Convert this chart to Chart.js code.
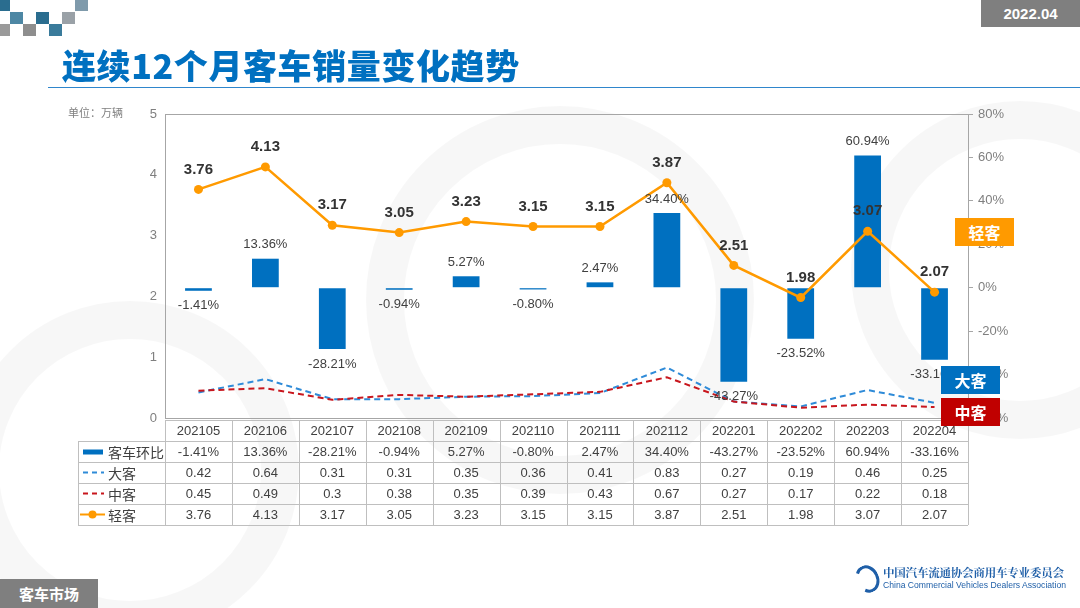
<!DOCTYPE html>
<html>
<head>
<meta charset="utf-8">
<script src="https://cdn.jsdelivr.net/npm/chart.js@4.4.1/dist/chart.umd.min.js"></script>
<style>
  body { margin: 0; background: #fff; }
  #page { position: relative; width: 1080px; height: 608px; overflow: hidden; font-family: "Noto Sans CJK SC", "Liberation Sans", sans-serif; }
  #chart { position: absolute; left: 0; top: 0; }
  .abs { position: absolute; }
  .sq { position: absolute; width: 13px; height: 12px; }
  #title { left: 62px; top: 40px; font-size: 34px; font-weight: 900; color: #0070c0; letter-spacing: 0.6px; white-space: nowrap; }
  #rule { left: 48px; top: 87px; width: 1032px; height: 1px; background: #2f86cc; }
  #date { left: 981px; top: 0; width: 99px; height: 27px; background: #7f7f7f; color: #fff; font: bold 15px "Liberation Sans", sans-serif; line-height: 27px; text-align: center; }
  #section { left: 0; top: 579px; width: 98px; height: 29px; background: #7f7f7f; color: #fff; font-size: 15px; font-weight: bold; line-height: 29px; text-align: center; }
  #unit { left: 68px; top: 104px; font-size: 11px; color: #7f7f7f; }
  .tag { position: absolute; width: 59px; height: 28px; color: #fff; font-size: 16px; font-weight: bold; line-height: 28px; text-align: center; }
  #org { left: 883px; top: 565px; color: #1f5fa8; }
  #org .cn { font-family: "Noto Serif CJK SC", "Noto Sans CJK SC", serif; font-size: 11.5px; font-weight: bold; letter-spacing: -0.2px; line-height: 15px; }
  #org .en { font: 8.6px "Liberation Sans", sans-serif; line-height: 10px; }
  #logo { left: 856px; top: 565px; width: 17px; height: 22px; border: 3px solid #1f5fa8; border-radius: 50%; border-left-color: transparent; transform: rotate(-25deg); }
</style>
</head>
<body>
<div id="page">
  <canvas id="chart" width="1080" height="608"></canvas>
  <div class="sq" style="left:0;top:0;width:10px;height:11px;background:#2a6d8f"></div>
  <div class="sq" style="left:75px;top:0;height:11px;background:#7f9aab"></div>
  <div class="sq" style="left:10px;top:12px;background:#4d87a4"></div>
  <div class="sq" style="left:36px;top:12px;background:#2a6d8f"></div>
  <div class="sq" style="left:62px;top:12px;background:#9aa1a7"></div>
  <div class="sq" style="left:0;top:24px;width:10px;background:#9a9a9a"></div>
  <div class="sq" style="left:23px;top:24px;background:#8e8e8e"></div>
  <div class="sq" style="left:49px;top:24px;background:#3a7b9b"></div>
  <div id="title" class="abs">连续12个月客车销量变化趋势</div>
  <div id="rule" class="abs"></div>
  <div id="date" class="abs">2022.04</div>
  <div id="unit" class="abs">单位：万辆</div>
  <div class="tag" style="left:955px;top:218px;background:#ff9a00">轻客</div>
  <div class="tag" style="left:941px;top:366px;background:#0070c0">大客</div>
  <div class="tag" style="left:941px;top:398px;background:#c00000">中客</div>
  <div id="section" class="abs">客车市场</div>
  <div id="logo" class="abs"></div>
  <div id="org" class="abs"><div class="cn">中国汽车流通协会商用车专业委员会</div><div class="en">China Commercial Vehicles Dealers Association</div></div>
</div>
<script>
const months = ['202105', '202106', '202107', '202108', '202109', '202110', '202111', '202112', '202201', '202202', '202203', '202204'];
const chainPct = [-1.41, 13.36, -28.21, -0.94, 5.27, -0.80, 2.47, 34.40, -43.27, -23.52, 60.94, -33.16];
const bigBus = [0.42, 0.64, 0.31, 0.31, 0.35, 0.36, 0.41, 0.83, 0.27, 0.19, 0.46, 0.25];
const midBus = [0.45, 0.49, 0.3, 0.38, 0.35, 0.39, 0.43, 0.67, 0.27, 0.17, 0.22, 0.18];
const lightBus = [3.76, 4.13, 3.17, 3.05, 3.23, 3.15, 3.15, 3.87, 2.51, 1.98, 3.07, 2.07];
const leftTicks = [0, 1, 2, 3, 4, 5];
const rightTicks = [-60, -40, -20, 0, 20, 40, 60, 80];

const BLUE = '#0070c0', LBLUE = '#2f8bd8', RED = '#c8161d', ORANGE = '#ff9a00';
const GREY = '#a6a6a6', TXT = '#404040';
const NUMFONT = '"Liberation Sans", Arial, sans-serif';
const CJKFONT = '"Noto Sans CJK SC", sans-serif';

const tableRows = [
    { name: '客车环比', values: chainPct.map(v => v.toFixed(2) + '%'), icon: 'bar', color: BLUE },
    { name: '大客', values: bigBus.map(String), icon: 'dash', color: LBLUE },
    { name: '中客', values: midBus.map(String), icon: 'dash', color: RED },
    { name: '轻客', values: lightBus.map(String), icon: 'dot', color: ORANGE }
];

const watermark = {
    id: 'watermark',
    beforeDraw(chart) {
        const ctx = chart.ctx;
        ctx.save();
        ctx.strokeStyle = 'rgba(0,0,0,0.03)';
        ctx.lineWidth = 38;
        [[130, 470, 150], [560, 300, 175], [1020, 270, 150]].forEach(c => {
            ctx.beginPath();
            ctx.arc(c[0], c[1], c[2], 0, Math.PI * 2);
            ctx.stroke();
        });
        ctx.restore();
    }
};

const frameAndTable = {
    id: 'frameAndTable',
    afterDraw(chart) {
        const ctx = chart.ctx;
        const a = chart.chartArea;
        const x = chart.scales.x;
        const step = (a.right - a.left) / months.length;
        ctx.save();
        // plot frame
        ctx.strokeStyle = GREY;
        ctx.lineWidth = 1;
        ctx.strokeRect(a.left + 0.5, a.top + 0.5, a.right - a.left, a.bottom - a.top);

        // table
        const top = a.bottom + 2;
        const rowH = 21;
        const labelLeft = 78;
        ctx.strokeStyle = '#bfbfbf';
        ctx.beginPath();
        ctx.moveTo(a.left, top + 0.5); ctx.lineTo(a.right, top + 0.5);
        for (let r = 1; r <= 5; r++) {
            const yy = Math.round(top + r * rowH) + 0.5;
            ctx.moveTo(labelLeft, yy); ctx.lineTo(a.right, yy);
        }
        for (let i = 0; i <= months.length; i++) {
            const xx = Math.round(a.left + i * step) + 0.5;
            ctx.moveTo(xx, top); ctx.lineTo(xx, top + 5 * rowH);
        }
        ctx.moveTo(labelLeft + 0.5, top + rowH); ctx.lineTo(labelLeft + 0.5, top + 5 * rowH);
        ctx.stroke();

        ctx.fillStyle = TXT;
        ctx.font = '13px ' + NUMFONT;
        ctx.textAlign = 'center';
        ctx.textBaseline = 'middle';
        months.forEach((m, i) => {
            ctx.fillText(m, x.getPixelForValue(i), top + rowH / 2 + 1);
        });
        tableRows.forEach((row, r) => {
            const cy = top + (r + 1.5) * rowH;
            ctx.fillStyle = TXT;
            ctx.font = '13px ' + NUMFONT;
            ctx.textAlign = 'center';
            row.values.forEach((v, i) => ctx.fillText(v, x.getPixelForValue(i), cy + 1));
            ctx.textAlign = 'left';
            ctx.font = '14px ' + CJKFONT;
            ctx.fillText(row.name, 108, cy + 1);
            ctx.fillStyle = row.color;
            ctx.strokeStyle = row.color;
            if (row.icon === 'bar') {
                ctx.fillRect(83, cy - 2, 20, 5);
            } else if (row.icon === 'dash') {
                ctx.lineWidth = 2;
                ctx.setLineDash([5, 4]);
                ctx.beginPath(); ctx.moveTo(83, cy); ctx.lineTo(104, cy); ctx.stroke();
                ctx.setLineDash([]);
            } else {
                ctx.lineWidth = 2;
                ctx.beginPath(); ctx.moveTo(80, cy); ctx.lineTo(105, cy); ctx.stroke();
                ctx.beginPath(); ctx.arc(92.5, cy, 4, 0, Math.PI * 2); ctx.fill();
            }
        });
        ctx.restore();
    }
};

const valueLabels = {
    id: 'valueLabels',
    afterDatasetsDraw(chart) {
        const ctx = chart.ctx;
        ctx.save();
        ctx.textAlign = 'center';
        ctx.textBaseline = 'middle';
        chart.getDatasetMeta(0).data.forEach((bar, i) => {
            const v = chainPct[i];
            ctx.fillStyle = TXT;
            ctx.font = '13px ' + NUMFONT;
            const yy = v >= 0 ? Math.min(bar.y, bar.base) - 14 : Math.max(bar.y, bar.base) + 15;
            ctx.fillText(v.toFixed(2) + '%', bar.x, yy);
        });
        chart.getDatasetMeta(3).data.forEach((pt, i) => {
            ctx.fillStyle = '#333';
            ctx.font = 'bold 15px ' + NUMFONT;
            ctx.fillText(lightBus[i].toFixed(2), pt.x, pt.y - 20);
        });
        ctx.restore();
    }
};

new Chart(document.getElementById('chart').getContext('2d'), {
    data: {
        labels: months,
        datasets: [
            {
                type: 'bar',
                label: '客车环比',
                data: chainPct,
                yAxisID: 'y2',
                backgroundColor: BLUE,
                barPercentage: 0.8,
                categoryPercentage: 0.5,
                order: 5
            },
            {
                type: 'line',
                label: '大客',
                data: bigBus,
                yAxisID: 'y',
                borderColor: LBLUE,
                borderWidth: 2,
                borderDash: [6, 4],
                pointRadius: 0,
                tension: 0,
                order: 3
            },
            {
                type: 'line',
                label: '中客',
                data: midBus,
                yAxisID: 'y',
                borderColor: RED,
                borderWidth: 2,
                borderDash: [6, 4],
                pointRadius: 0,
                tension: 0,
                order: 2
            },
            {
                type: 'line',
                label: '轻客',
                data: lightBus,
                yAxisID: 'y',
                borderColor: ORANGE,
                backgroundColor: ORANGE,
                borderWidth: 2.5,
                pointRadius: 4.5,
                pointBackgroundColor: ORANGE,
                pointBorderWidth: 0,
                tension: 0,
                order: 1
            }
        ]
    },
    options: {
        responsive: false,
        animation: false,
        layout: { padding: { left: 125, right: 42, top: 114, bottom: 190 } },
        plugins: { legend: { display: false }, tooltip: { enabled: false } },
        scales: {
            x: { display: false, offset: true },
            y: {
                position: 'left',
                min: 0,
                max: 5,
                afterBuildTicks: s => { s.ticks = leftTicks.map(v => ({ value: v })); },
                afterFit: s => { s.width = 40; },
                ticks: { color: '#7f7f7f', font: { size: 13, family: NUMFONT }, padding: 8 },
                grid: { drawOnChartArea: false, drawTicks: false },
                border: { color: GREY }
            },
            y2: {
                position: 'right',
                min: -60,
                max: 80,
                afterBuildTicks: s => { s.ticks = rightTicks.map(v => ({ value: v })); },
                afterFit: s => { s.width = 70; },
                ticks: { color: '#7f7f7f', font: { size: 13, family: NUMFONT }, padding: 5, callback: v => v + '%' },
                grid: { drawOnChartArea: false, drawTicks: true, tickLength: 5, color: GREY },
                border: { color: GREY }
            }
        }
    },
    plugins: [watermark, frameAndTable, valueLabels]
});
</script>
</body>
</html>
